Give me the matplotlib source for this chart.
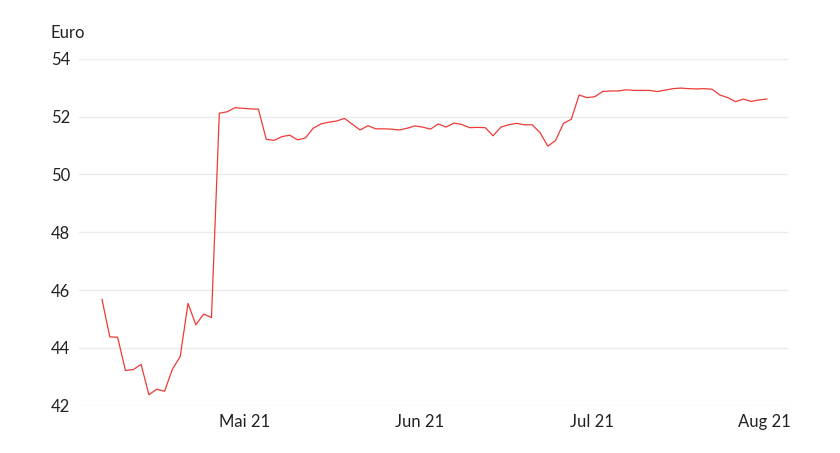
""" Share price chart, April to August 2021.
"""

import matplotlib
matplotlib.use('Agg')
import matplotlib.pyplot as plt

# closing prices in Euro, one per trading day
prices = [
    45.68, 44.38, 44.37, 43.22, 43.25, 43.43, 42.38, 42.57, 42.50, 43.26,
    43.70, 45.54, 44.80, 45.17, 45.05, 52.12, 52.17, 52.31, 52.29, 52.27,
    52.26, 51.22, 51.18, 51.31, 51.36, 51.20, 51.26, 51.60, 51.75, 51.81,
    51.85, 51.94, 51.74, 51.54, 51.69, 51.58, 51.58, 51.57, 51.54, 51.60,
    51.68, 51.64, 51.57, 51.75, 51.64, 51.78, 51.73, 51.62, 51.63, 51.62,
    51.34, 51.64, 51.72, 51.77, 51.72, 51.72, 51.45, 50.98, 51.18, 51.77,
    51.91, 52.75, 52.66, 52.69, 52.87, 52.89, 52.89, 52.93, 52.91, 52.91,
    52.91, 52.87, 52.92, 52.97, 52.99, 52.97, 52.96, 52.97, 52.95, 52.75,
    52.66, 52.52, 52.61, 52.53, 52.58, 52.61,
]
month_labels = ['Mai 21', 'Jun 21', 'Jul 21', 'Aug 21']
y_ticks = [42, 44, 46, 48, 50, 52, 54]

# where the month labels sit on the trading day index
month_pos = [18.25, 40.6, 62.7, 84.7]

plt.rcParams['font.family'] = ['Lato', 'DejaVu Sans']

fig = plt.figure(figsize=(8.4, 4.53), dpi=100)
ax = fig.add_axes([0.0944, 0.1044, 0.8441, 0.7656])

days = list(range(len(prices)))
ax.plot(days, prices, color='#ee3b36', linewidth=0.9, zorder=3)

ax.set_xlim(-2.9, len(prices) - 1 + 2.75)
ax.set_ylim(42, 54)

ax.set_yticks(y_ticks)
ax.set_yticklabels([str(v) for v in y_ticks])
ax.set_xticks(month_pos)
ax.set_xticklabels(month_labels)

ax.grid(axis='y', color='#ebebeb', linewidth=1.0)
ax.set_axisbelow(True)
for spine in ax.spines.values():
    spine.set_visible(False)

ax.tick_params(axis='y', length=0, pad=20.4, labelsize=12, colors='#222222')
ax.tick_params(axis='x', length=0, pad=6, labelsize=12, colors='#222222')
for label in ax.get_yticklabels():
    label.set_horizontalalignment('left')

fig.text(51 / 840, 1 - 33 / 453, 'Euro', fontsize=12, color='#222222',
         va='center', ha='left')

fig.savefig('out.png', dpi=100)
